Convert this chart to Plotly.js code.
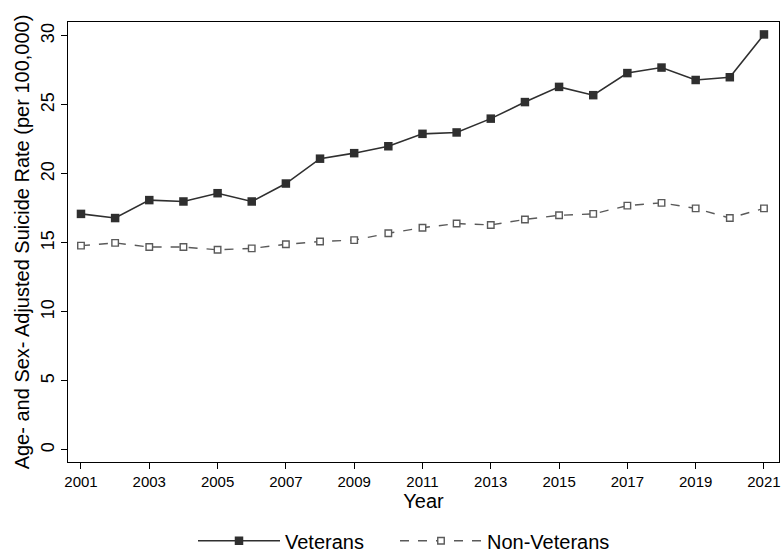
<!DOCTYPE html>
<html>
<head>
<meta charset="utf-8">
<script src="https://cdn.plot.ly/plotly-3.0.1.min.js"></script>
<style>
  html, body { margin: 0; padding: 0; background: #fff; }
  #chart { width: 782px; height: 554px; }
</style>
</head>
<body>
<div id="chart"></div>
<script>
// Age- and sex-adjusted suicide rates, 2001-2021
const years = [2001, 2002, 2003, 2004, 2005, 2006, 2007, 2008, 2009, 2010, 2011,
               2012, 2013, 2014, 2015, 2016, 2017, 2018, 2019, 2020, 2021];
const veterans = [17.1, 16.8, 18.1, 18.0, 18.6, 18.0, 19.3, 21.1, 21.5, 22.0, 22.9,
                  23.0, 24.0, 25.2, 26.3, 25.7, 27.3, 27.7, 26.8, 27.0, 30.1];
const nonVeterans = [14.8, 15.0, 14.7, 14.7, 14.5, 14.6, 14.9, 15.1, 15.2, 15.7, 16.1,
                     16.4, 16.3, 16.7, 17.0, 17.1, 17.7, 17.9, 17.5, 16.8, 17.5];
const xTicks = [2001, 2003, 2005, 2007, 2009, 2011, 2013, 2015, 2017, 2019, 2021];
const yTicks = [0, 5, 10, 15, 20, 25, 30];

const font = "Liberation Sans, Arial, sans-serif";

const traces = [
  {
    x: years, y: veterans, name: "Veterans", type: "scatter", mode: "lines+markers",
    line: { color: "#2f2f2f", width: 1.6 },
    marker: { symbol: "square", size: 8.5, color: "#2f2f2f" },
    legend: "legend"
  },
  {
    x: years, y: nonVeterans, name: "Non-Veterans", type: "scatter", mode: "lines+markers",
    line: { color: "#5a5a5a", width: 1.4, dash: "dash" },
    marker: { symbol: "square", size: 6.5, color: "#ffffff", line: { color: "#5a5a5a", width: 1.4 } },
    legend: "legend2"
  }
];

// Two single-entry legends side by side below the x axis
const legendBase = {
  orientation: "h", xanchor: "left", xref: "container",
  y: 0.024, yanchor: "middle", yref: "container",
  font: { family: font, size: 20, color: "#000" },
  itemwidth: 82, bgcolor: "rgba(0,0,0,0)"
};

const layout = {
  width: 782, height: 554,
  margin: { l: 68, r: 3, t: 22, b: 92, autoexpand: false },
  paper_bgcolor: "#ffffff", plot_bgcolor: "#ffffff",
  font: { family: font, color: "#000000", size: 15 },
  showlegend: true,
  legend: Object.assign({}, legendBase, { x: 193 / 782 }),
  legend2: Object.assign({}, legendBase, { x: 395 / 782 }),
  xaxis: {
    range: [2000.62, 2021.44], tickvals: xTicks, ticktext: xTicks.map(String),
    ticks: "outside", ticklen: 6, tickcolor: "#000", tickwidth: 1,
    showgrid: false, zeroline: false,
    showline: true, linecolor: "#000", linewidth: 1.3, mirror: true,
    tickfont: { family: font, size: 15 },
    title: { text: "Year", font: { family: font, size: 20 }, standoff: 0 }
  },
  yaxis: {
    range: [-0.87, 31.0], tickvals: yTicks, ticktext: yTicks.map(String),
    ticks: "outside", ticklen: 6, tickcolor: "#000", tickwidth: 1, tickangle: -90,
    showgrid: false, zeroline: false,
    showline: true, linecolor: "#000", linewidth: 1.3, mirror: true,
    tickfont: { family: font, size: 18 },
    title: { text: "Age- and Sex- Adjusted Suicide Rate (per 100,000)", font: { family: font, size: 20 }, standoff: 2 }
  }
};

Plotly.newPlot("chart", traces, layout, { displayModeBar: false, staticPlot: true });
</script>
</body>
</html>
